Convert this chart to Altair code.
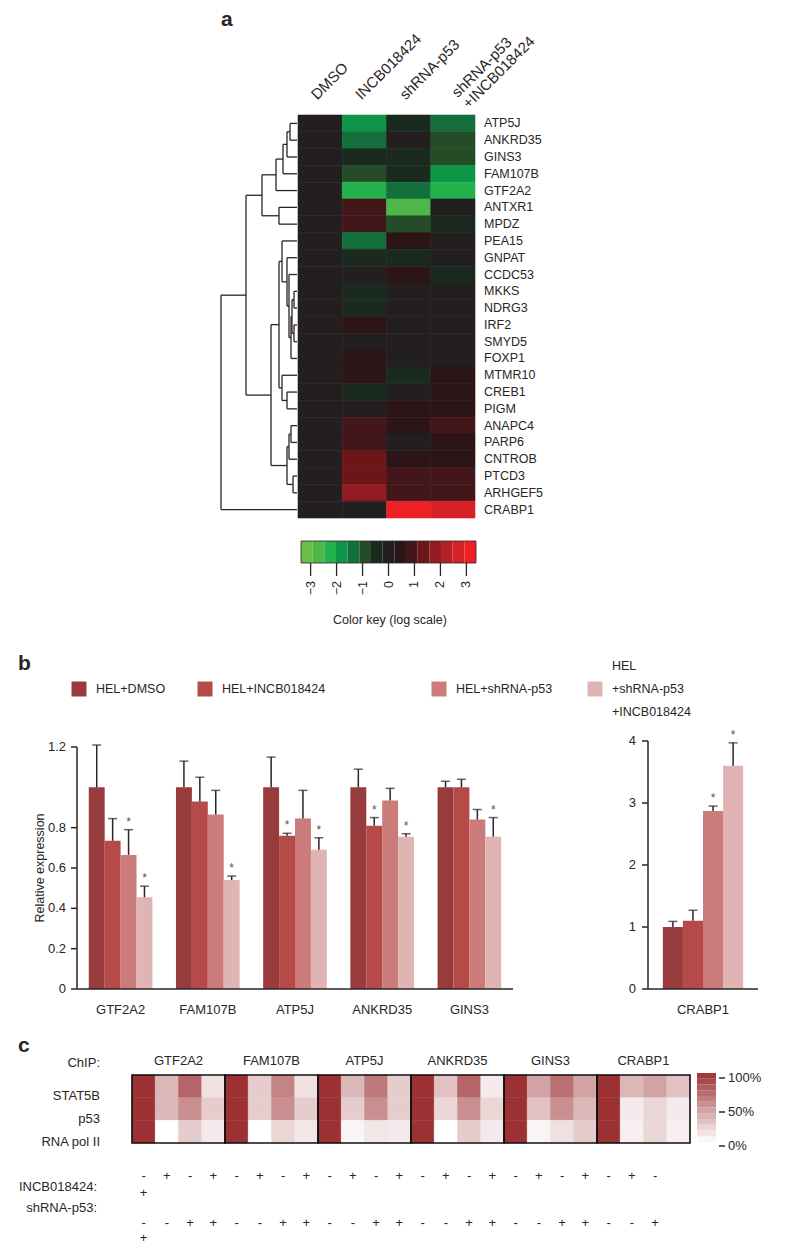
import altair as alt
import pandas as pd
import numpy as np

FONT = "Liberation Sans"
INK = "#2a2526"


def X(v):
    return v - 8


def Y(v):
    return v - 8


# ---------------- panel a : heatmap ----------------
genes_a = ["ATP5J", "ANKRD35", "GINS3", "FAM107B", "GTF2A2", "ANTXR1", "MPDZ", "PEA15",
           "GNPAT", "CCDC53", "MKKS", "NDRG3", "IRF2", "SMYD5", "FOXP1", "MTMR10",
           "CREB1", "PIGM", "ANAPC4", "PARP6", "CNTROB", "PTCD3", "ARHGEF5", "CRABP1"]
cols_a = ["DMSO", "INCB018424", "shRNA-p53", "shRNA-p53\n+INCB018424"]
a_dmso = [0, 0, 0, 0, 0, 0, 0, 0, 0, 0, 0, 0, 0, 0, 0, 0, 0, 0, 0, 0, 0, 0, 0, 0]
a_incb = [-1.9, -1.35, -0.45, -0.9, -2.4, 0.9, 0.9, -1.35, -0.45, 0, -0.45, -0.45,
          0.45, 0, 0.45, 0.45, -0.45, 0, 0.9, 0.9, 1.35, 1.35, 1.8, 0]
a_shrna = [-0.45, 0, -0.45, -0.45, -1.35, -2.8, -0.9, 0.45, -0.45, 0.45, 0, 0,
           0, 0, 0, -0.45, 0, 0.45, 0.45, 0, 0.45, 0.9, 0.9, 3.1]
a_combo = [-1.35, -0.9, -0.9, -1.9, -2.4, 0, -0.45, 0, 0, -0.45, 0, 0,
           0, 0, 0, 0.45, 0.45, 0.45, 0.9, 0.45, 0.45, 0.9, 0.9, 2.7]

# dendrogram (left, right, merge height)
n_top3 = (("ATP5J", "ANKRD35", 7), "GINS3", 10)
n_top4 = (n_top3, "FAM107B", 14)
n_top5 = (n_top4, "GTF2A2", 21)
n_antx = ("ANTXR1", "MPDZ", 18)
n_B = (n_top5, n_antx, 35)
n_m1 = (("MKKS", "NDRG3", 3), ("IRF2", "SMYD5", 3), 5)
n_m2 = (n_m1, "FOXP1", 6)
n_m3 = ("CCDC53", n_m2, 8)
n_m4 = ("GNPAT", n_m3, 10)
n_C1a = ("PEA15", n_m4, 15)
n_C1b = ("MTMR10", ("CREB1", "PIGM", 10), 15)
n_C1 = (n_C1a, n_C1b, 18)
n_C2 = ((("ANAPC4", "PARP6", 6), "CNTROB", 8), ("PTCD3", "ARHGEF5", 4), 10)
n_C = (n_C1, n_C2, 26)
n_A = (n_B, n_C, 51)
tree = (n_A, "CRABP1", 76)
TREE_MAX = 76

key_colors = ["#6abd45", "#4db848", "#23b14c", "#0f9548", "#136f3b", "#234c27", "#1a2a1e",
              "#231f20", "#2b1517", "#431719", "#6c1618", "#921c21", "#b52026", "#d72129", "#ed2024"]
KEY_LIM = 3.37
key_ticks = [-3, -2, -1, 0, 1, 2, 3]

# ---------------- panel b : bars ----------------
genes_b = ["GTF2A2", "FAM107B", "ATP5J", "ANKRD35", "GINS3"]
conds_b = ["HEL+DMSO", "HEL+INCB018424", "HEL+shRNA-p53", "HEL+shRNA-p53+INCB018424"]
b_dmso = [1.0, 1.0, 1.0, 1.0, 1.0]
b_dmso_err = [0.21, 0.13, 0.15, 0.09, 0.03]
b_incb = [0.735, 0.93, 0.76, 0.81, 1.0]
b_incb_err = [0.11, 0.12, 0.012, 0.04, 0.04]
b_shrna = [0.665, 0.865, 0.845, 0.935, 0.84]
b_shrna_err = [0.125, 0.12, 0.14, 0.06, 0.05]
b_combo = [0.455, 0.54, 0.69, 0.755, 0.755]
b_combo_err = [0.055, 0.02, 0.06, 0.015, 0.095]
b_star_dmso = ["", "", "", "", ""]
b_star_incb = ["", "", "*", "*", ""]
b_star_shrna = ["*", "", "", "", ""]
b_star_combo = ["*", "*", "*", "*", "*"]
b_ticks = [0, 0.2, 0.4, 0.6, 0.8, 1.2]

crabp_vals = [1.0, 1.1, 2.87, 3.6]
crabp_errs = [0.09, 0.17, 0.08, 0.37]
crabp_stars = ["", "", "*", "*"]
crabp_ticks = [0, 1, 2, 3, 4]

bar_colors = ["#983b3c", "#b64a48", "#cb7b7a", "#dfb4b2"]
legend_lines = [["HEL+DMSO"], ["HEL+INCB018424"], ["HEL+shRNA-p53"], ["HEL", "+shRNA-p53", "+INCB018424"]]

# ---------------- panel c : ChIP heatmap ----------------
genes_c = ["GTF2A2", "FAM107B", "ATP5J", "ANKRD35", "GINS3", "CRABP1"]
chip_rows = ["STAT5B", "p53", "RNA pol II"]
c_stat5b = [100, 35, 75, 15, 100, 25, 60, 15, 100, 35, 65, 25,
            100, 30, 75, 10, 100, 45, 70, 45, 100, 35, 45, 30]
c_p53 = [100, 35, 55, 25, 100, 25, 55, 25, 100, 25, 55, 25,
         100, 20, 55, 20, 100, 30, 55, 35, 100, 10, 20, 10]
c_pol = [100, 0, 25, 10, 100, 0, 20, 12, 100, 5, 12, 10,
         100, 0, 25, 10, 100, 5, 15, 25, 100, 8, 20, 8]
incb_signs = ["-", "+", "-", "+", "-", "+", "-", "+", "-", "+", "-", "+",
              "-", "+", "-", "+", "-", "+", "-", "+", "-", "+", "-", "+"]
shrna_signs = ["-", "-", "+", "+", "-", "-", "+", "+", "-", "-", "+", "+",
               "-", "-", "+", "+", "-", "-", "+", "+", "-", "-", "+", "+"]
pct_ticks = [0, 50, 100]
c_low, c_high = "#ffffff", "#9c3134"


def text_layer(txt, x, y, size=12, weight="normal", align="left", baseline="middle", angle=0, color=INK):
    return alt.Chart(pd.DataFrame({"t": [txt]})).mark_text(
        font=FONT, fontSize=size, fontWeight=weight, align=align, baseline=baseline,
        angle=angle, color=color
    ).encode(x=alt.value(X(x)), y=alt.value(Y(y)), text="t:N")


layers = []

# ======== panel a ========
layers.append(text_layer("a", 221, 20, size=21, weight="bold"))

rows = []
for c, vals in zip(cols_a, [a_dmso, a_incb, a_shrna, a_combo]):
    for g, v in zip(genes_a, vals):
        rows.append({"gene": g, "cond": c, "v": v})
dfa = pd.DataFrame(rows)
xa = alt.Scale(domain=cols_a, range=[X(298), X(475)], paddingInner=0, paddingOuter=0)
ya = alt.Scale(domain=genes_a, range=[Y(115), Y(518)], paddingInner=0, paddingOuter=0)
ca = alt.Scale(type="quantize", domain=[-KEY_LIM, KEY_LIM], range=key_colors)

layers.append(alt.Chart(dfa).mark_rect(strokeWidth=0.6).encode(
    x=alt.X("cond:N", scale=xa, axis=None, sort=cols_a),
    y=alt.Y("gene:N", scale=ya, axis=None, sort=genes_a),
    color=alt.Color("v:Q", scale=ca, legend=None),
    stroke=alt.Stroke("v:Q", scale=ca, legend=None),
))

# column labels
layers.append(alt.Chart(pd.DataFrame({"cond": cols_a[:3]})).mark_text(
    font=FONT, fontSize=15, align="left", baseline="middle", angle=315, color=INK, dx=-4.6, dy=-4.6
).encode(x=alt.X("cond:N", scale=xa, axis=None, sort=cols_a), y=alt.value(Y(97)), text="cond:N"))
layers.append(alt.Chart(pd.DataFrame({"cond": cols_a[3:]})).mark_text(
    font=FONT, fontSize=15, align="left", baseline="middle", angle=315, color=INK,
    lineBreak="\n", lineHeight=15.5, dx=4, dy=-2
).encode(x=alt.X("cond:N", scale=xa, axis=None, sort=cols_a), y=alt.value(Y(99)), text="cond:N"))

# gene labels
layers.append(alt.Chart(pd.DataFrame({"gene": genes_a})).mark_text(
    font=FONT, fontSize=12.5, align="left", baseline="middle", color=INK
).encode(y=alt.Y("gene:N", scale=ya, axis=None, sort=genes_a), x=alt.value(X(484)), text="gene:N"))

# dendrogram
segs = []


def walk(node):
    if isinstance(node, str):
        return float(genes_a.index(node)), 0.0
    left, right, h = node
    yl, hl = walk(left)
    yr, hr = walk(right)
    segs.append({"h0": hl, "h1": h, "y0": yl, "y1": yl})
    segs.append({"h0": hr, "h1": h, "y0": yr, "y1": yr})
    segs.append({"h0": h, "h1": h, "y0": yl, "y1": yr})
    return (yl + yr) / 2.0, float(h)


walk(tree)
dseg = pd.DataFrame(segs)
xd = alt.Scale(domain=[0, TREE_MAX], range=[X(297), X(221)])
yd = alt.Scale(domain=[-0.5, len(genes_a) - 0.5], range=[Y(115), Y(518)])
layers.append(alt.Chart(dseg).mark_rule(color=INK, strokeWidth=1.3).encode(
    x=alt.X("h0:Q", scale=xd, axis=None), x2="h1:Q",
    y=alt.Y("y0:Q", scale=yd, axis=None), y2="y1:Q"))

# colour key
edges = np.linspace(-KEY_LIM, KEY_LIM, len(key_colors) + 1)
dkey = pd.DataFrame({"lo": edges[:-1], "hi": edges[1:], "mid": (edges[:-1] + edges[1:]) / 2})
xk = alt.Scale(domain=[-KEY_LIM, KEY_LIM], range=[X(301), X(476)])
layers.append(alt.Chart(dkey).mark_rect().encode(
    x=alt.X("lo:Q", scale=xk, axis=None), x2="hi:Q",
    y=alt.value(Y(541)), y2=alt.value(Y(563)),
    color=alt.Color("mid:Q", scale=ca, legend=None)))
layers.append(alt.Chart(pd.DataFrame({"lo": [-KEY_LIM], "hi": [KEY_LIM]})).mark_rect(
    fillOpacity=0, stroke=INK, strokeWidth=0.8).encode(
    x=alt.X("lo:Q", scale=xk, axis=None), x2="hi:Q",
    y=alt.value(Y(541)), y2=alt.value(Y(563))))
dkt = pd.DataFrame({"t": key_ticks})
layers.append(alt.Chart(dkt).mark_rule(color=INK, strokeWidth=1.3).encode(
    x=alt.X("t:Q", scale=xk, axis=None), y=alt.value(Y(563)), y2=alt.value(Y(576))))
layers.append(alt.Chart(dkt).mark_text(
    font=FONT, fontSize=12.5, align="right", baseline="middle", angle=270, color=INK
).encode(x=alt.X("t:Q", scale=xk, axis=None), y=alt.value(Y(581)), text="t:Q"))
layers.append(text_layer("Color key (log scale)", 390, 620, align="center", size=12.5))

# ======== panel b ========
layers.append(text_layer("b", 18, 664, size=21, weight="bold"))

rows = []
for c, vals, errs, stars in zip(conds_b, [b_dmso, b_incb, b_shrna, b_combo],
                                [b_dmso_err, b_incb_err, b_shrna_err, b_combo_err],
                                [b_star_dmso, b_star_incb, b_star_shrna, b_star_combo]):
    for g, v, e, s in zip(genes_b, vals, errs, stars):
        rows.append({"gene": g, "cond": c, "v": v, "top": v + e, "star": s})
dfb = pd.DataFrame(rows)

cb = alt.Scale(domain=conds_b, range=bar_colors)


def bar_group(df, xscale, yscale):
    enc_x = alt.X("gene:N", scale=xscale, axis=None)
    enc_o = alt.XOffset("cond:N", sort=conds_b, scale=alt.Scale(domain=conds_b, paddingInner=0))
    out = []
    out.append(alt.Chart(df).mark_bar(strokeWidth=0).encode(
        x=enc_x, xOffset=enc_o, y=alt.Y("v:Q", scale=yscale, axis=None),
        color=alt.Color("cond:N", scale=cb, legend=None)))
    out.append(alt.Chart(df).mark_rule(color=INK, strokeWidth=1.5).encode(
        x=enc_x, xOffset=enc_o, y=alt.Y("v:Q", scale=yscale, axis=None), y2="top:Q"))
    out.append(alt.Chart(df).mark_tick(color=INK, orient="horizontal", size=9, thickness=1.5).encode(
        x=enc_x, xOffset=enc_o, y=alt.Y("top:Q", scale=yscale, axis=None)))
    out.append(alt.Chart(df).mark_text(font=FONT, fontSize=12, color="#555555", baseline="alphabetic",
                                       dy=-4).encode(
        x=enc_x, xOffset=enc_o, y=alt.Y("top:Q", scale=yscale, axis=None), text="star:N"))
    return out


xb = alt.Scale(domain=genes_b, range=[X(77), X(513)], paddingInner=0.27, paddingOuter=0.135)
yb = alt.Scale(domain=[0, 1.2], range=[Y(989), Y(747)])
layers += bar_group(dfb, xb, yb)

# axes of main bar plot
layers.append(alt.Chart(pd.DataFrame({"y0": [0], "y1": [1.2]})).mark_rule(color=INK, strokeWidth=1.5).encode(
    x=alt.value(X(77)), y=alt.Y("y0:Q", scale=yb, axis=None), y2="y1:Q"))
layers.append(alt.Chart(pd.DataFrame({"y0": [0]})).mark_rule(color=INK, strokeWidth=1.5).encode(
    x=alt.value(X(77)), x2=alt.value(X(513)), y=alt.Y("y0:Q", scale=yb, axis=None)))
dbt = pd.DataFrame({"t": b_ticks, "lab": ["0", "0.2", "0.4", "0.6", "0.8", "1.2"]})
layers.append(alt.Chart(dbt).mark_rule(color=INK, strokeWidth=1.5).encode(
    x=alt.value(X(71)), x2=alt.value(X(77)), y=alt.Y("t:Q", scale=yb, axis=None)))
layers.append(alt.Chart(dbt).mark_text(font=FONT, fontSize=13, align="right", baseline="middle",
                                       color=INK).encode(
    x=alt.value(X(66)), y=alt.Y("t:Q", scale=yb, axis=None), text="lab:N"))
layers.append(alt.Chart(pd.DataFrame({"gene": genes_b})).mark_text(
    font=FONT, fontSize=13, align="center", baseline="middle", color=INK).encode(
    x=alt.X("gene:N", scale=xb, axis=None), y=alt.value(Y(1010)), text="gene:N"))
layers.append(text_layer("Relative expression", 40, 868, align="center", angle=270, size=12.5))

# CRABP1 bars
dfc1 = pd.DataFrame({"gene": ["CRABP1"] * 4, "cond": conds_b, "v": crabp_vals,
                     "top": [v + e for v, e in zip(crabp_vals, crabp_errs)], "star": crabp_stars})
xb2 = alt.Scale(domain=["CRABP1"], range=[X(648), X(758)], paddingInner=0.27, paddingOuter=0.135)
yb2 = alt.Scale(domain=[0, 4], range=[Y(989), Y(741)])
layers += bar_group(dfc1, xb2, yb2)
layers.append(alt.Chart(pd.DataFrame({"y0": [0], "y1": [4]})).mark_rule(color=INK, strokeWidth=1.5).encode(
    x=alt.value(X(648)), y=alt.Y("y0:Q", scale=yb2, axis=None), y2="y1:Q"))
layers.append(alt.Chart(pd.DataFrame({"y0": [0]})).mark_rule(color=INK, strokeWidth=1.5).encode(
    x=alt.value(X(648)), x2=alt.value(X(758)), y=alt.Y("y0:Q", scale=yb2, axis=None)))
dct = pd.DataFrame({"t": crabp_ticks})
layers.append(alt.Chart(dct).mark_rule(color=INK, strokeWidth=1.5).encode(
    x=alt.value(X(642)), x2=alt.value(X(648)), y=alt.Y("t:Q", scale=yb2, axis=None)))
layers.append(alt.Chart(dct).mark_text(font=FONT, fontSize=13, align="right", baseline="middle",
                                       color=INK).encode(
    x=alt.value(X(636)), y=alt.Y("t:Q", scale=yb2, axis=None), text="t:Q"))
layers.append(alt.Chart(pd.DataFrame({"gene": ["CRABP1"]})).mark_text(
    font=FONT, fontSize=13, align="center", baseline="middle", color=INK).encode(
    x=alt.X("gene:N", scale=xb2, axis=None), y=alt.value(Y(1010)), text="gene:N"))

# legend (piecewise placement of the four entries)
xl = alt.Scale(domain=[0, 1, 2, 3], range=[X(79), X(205), X(439), X(595)])
dleg = pd.DataFrame({"i": [0, 1, 2, 3], "cond": conds_b})
layers.append(alt.Chart(dleg).mark_square(size=225, opacity=1).encode(
    x=alt.X("i:Q", scale=xl, axis=None), y=alt.value(Y(689)),
    color=alt.Color("cond:N", scale=cb, legend=None)))
lrows = []
for i, lines in enumerate(legend_lines):
    n = len(lines)
    for j, t in enumerate(lines):
        lrows.append({"i": i, "line": j - (n - 1) / 2.0, "t": t})
dlt = pd.DataFrame(lrows)
yl = alt.Scale(domain=[-1, 1], range=[Y(666), Y(712)])
layers.append(alt.Chart(dlt).mark_text(font=FONT, fontSize=12.5, align="left", baseline="middle",
                                       color=INK, dx=17).encode(
    x=alt.X("i:Q", scale=xl, axis=None), y=alt.Y("line:Q", scale=yl, axis=None), text="t:N"))

# ======== panel c ========
layers.append(text_layer("c", 18, 1046, size=21, weight="bold"))
rows = []
for r, vals in enumerate([c_stat5b, c_p53, c_pol]):
    for col, v in enumerate(vals):
        rows.append({"c0": col, "c1": col + 1, "r0": r, "r1": r + 1, "v": v})
dfc = pd.DataFrame(rows)
xc = alt.Scale(domain=[0, 24], range=[X(132), X(690)])
yc = alt.Scale(domain=[0, 3], range=[Y(1075), Y(1143)])
cc = alt.Scale(domain=[0, 100], range=[c_low, c_high], interpolate="rgb")
layers.append(alt.Chart(dfc).mark_rect(strokeWidth=0.5).encode(
    x=alt.X("c0:Q", scale=xc, axis=None), x2="c1:Q",
    y=alt.Y("r0:Q", scale=yc, axis=None), y2="r1:Q",
    color=alt.Color("v:Q", scale=cc, legend=None),
    stroke=alt.Stroke("v:Q", scale=cc, legend=None)))
dblk = pd.DataFrame({"b0": [4 * i for i in range(6)], "b1": [4 * i + 4 for i in range(6)],
                     "bm": [4 * i + 2 for i in range(6)], "g": genes_c, "r0": [0] * 6, "r1": [3] * 6})
layers.append(alt.Chart(dblk).mark_rect(fillOpacity=0, stroke="#111111", strokeWidth=1.6).encode(
    x=alt.X("b0:Q", scale=xc, axis=None), x2="b1:Q",
    y=alt.Y("r0:Q", scale=yc, axis=None), y2="r1:Q"))
layers.append(alt.Chart(dblk).mark_text(font=FONT, fontSize=13, align="center", baseline="middle",
                                        color=INK).encode(
    x=alt.X("bm:Q", scale=xc, axis=None), y=alt.value(Y(1061)), text="g:N"))
layers.append(text_layer("ChIP:", 100, 1063, align="right", size=13))
drl = pd.DataFrame({"rm": [0.5, 1.5, 2.5], "t": chip_rows})
layers.append(alt.Chart(drl).mark_text(font=FONT, fontSize=13, align="right", baseline="middle",
                                       color=INK, dy=10).encode(
    x=alt.value(X(100)), y=alt.Y("rm:Q", scale=yc, axis=None), text="t:N"))

# colour bar of panel c
cedges = np.linspace(0, 100, 13)
dcb = pd.DataFrame({"lo": cedges[:-1], "hi": cedges[1:], "mid": (cedges[:-1] + cedges[1:]) / 2})
ycb = alt.Scale(domain=[0, 100], range=[Y(1142), Y(1073)])
layers.append(alt.Chart(dcb).mark_rect().encode(
    x=alt.value(X(697)), x2=alt.value(X(716)),
    y=alt.Y("lo:Q", scale=ycb, axis=None), y2="hi:Q",
    color=alt.Color("mid:Q", scale=cc, legend=None)))
ycbt = alt.Scale(domain=[0, 100], range=[Y(1146), Y(1078)])
dpt = pd.DataFrame({"t": pct_ticks, "lab": ["0%", "50%", "100%"]})
layers.append(alt.Chart(dpt).mark_rule(color=INK, strokeWidth=1.5).encode(
    x=alt.value(X(719)), x2=alt.value(X(725)), y=alt.Y("t:Q", scale=ycbt, axis=None)))
layers.append(alt.Chart(dpt).mark_text(font=FONT, fontSize=13, align="left", baseline="middle",
                                       color=INK).encode(
    x=alt.value(X(728)), y=alt.Y("t:Q", scale=ycbt, axis=None), text="lab:N"))

# treatment rows
srows = []
for k, signs in enumerate([incb_signs, shrna_signs]):
    for col, s in enumerate(signs):
        wrapped = col == len(signs) - 1
        srows.append({"xm": (0 if wrapped else col) + 0.5, "line": 2 * k + (1 if wrapped else 0), "s": s})
dsg = pd.DataFrame(srows)
ys = alt.Scale(domain=[0, 1, 2, 3], range=[Y(1176), Y(1193), Y(1223), Y(1238)])
layers.append(alt.Chart(dsg).mark_text(font=FONT, fontSize=13, align="center", baseline="middle",
                                       color=INK).encode(
    x=alt.X("xm:Q", scale=xc, axis=None), y=alt.Y("line:Q", scale=ys, axis=None), text="s:N"))
layers.append(text_layer("INCB018424:", 97, 1187, align="right", size=13))
layers.append(text_layer("shRNA-p53:", 97, 1208, align="right", size=13))

chart = alt.layer(*layers).resolve_scale(
    x="independent", y="independent", color="independent", stroke="independent", xOffset="independent"
).properties(
    width=784, height=1237, autosize=alt.AutoSizeParams(type="none"), padding=0
).configure_view(stroke=None)

chart.save("out.html", embed_options={"renderer": "svg", "actions": False})
